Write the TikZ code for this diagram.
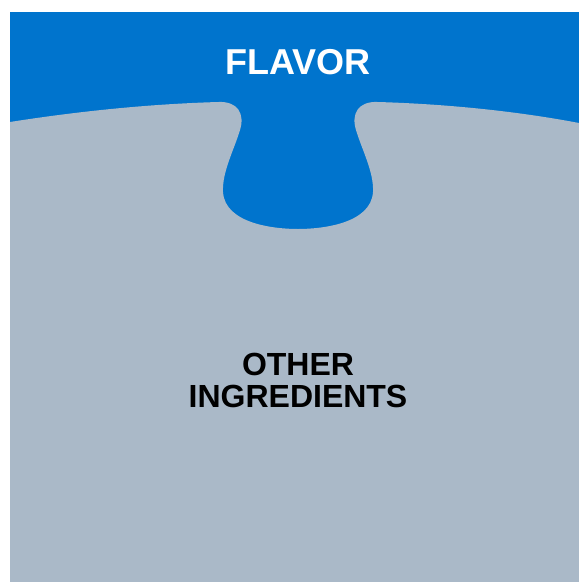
\documentclass[tikz,border=0pt]{standalone}
\usepackage{fontspec}
\setmainfont{Liberation Sans}
\usepackage{tikz}
\usepackage{xcolor}
\definecolor{flavorblue}{HTML}{0074CD}
\definecolor{restgray}{HTML}{AAB9C8}

\begin{document}
\begin{tikzpicture}[x=1pt,y=-1pt,
  lbl/.style={font=\fontsize{32}{32.5}\selectfont\bfseries,align=center,inner sep=0pt}]
  \useasboundingbox (0,0) rectangle (579,582);
  \fill[flavorblue] (10,12) rectangle (579,582);
  % the other ingredients, with the slot the flavor sits in
  \fill[restgray] (10,582) -- (10,122)
    .. controls (80,111) and (150,104) .. (218,102)
    .. controls (238,101) and (245,114) .. (240,130)
    .. controls (234,150) and (222,172) .. (223,192)
    .. controls (225,224) and (275,229) .. (298,229)
    .. controls (321,229) and (371,224) .. (373,192)
    .. controls (374,172) and (362,150) .. (356,130)
    .. controls (351,114) and (358,101) .. (378,102)
    .. controls (446,104) and (516,111) .. (579,123)
    -- (579,582) -- cycle;
  \node[lbl,text=white,font=\fontsize{36}{36}\selectfont\bfseries] (flavor) at (298,62.5) {FLAVOR};
  \node[lbl,text=black] (other) at (298,380.5) {OTHER\\INGREDIENTS};
\end{tikzpicture}
\end{document}
